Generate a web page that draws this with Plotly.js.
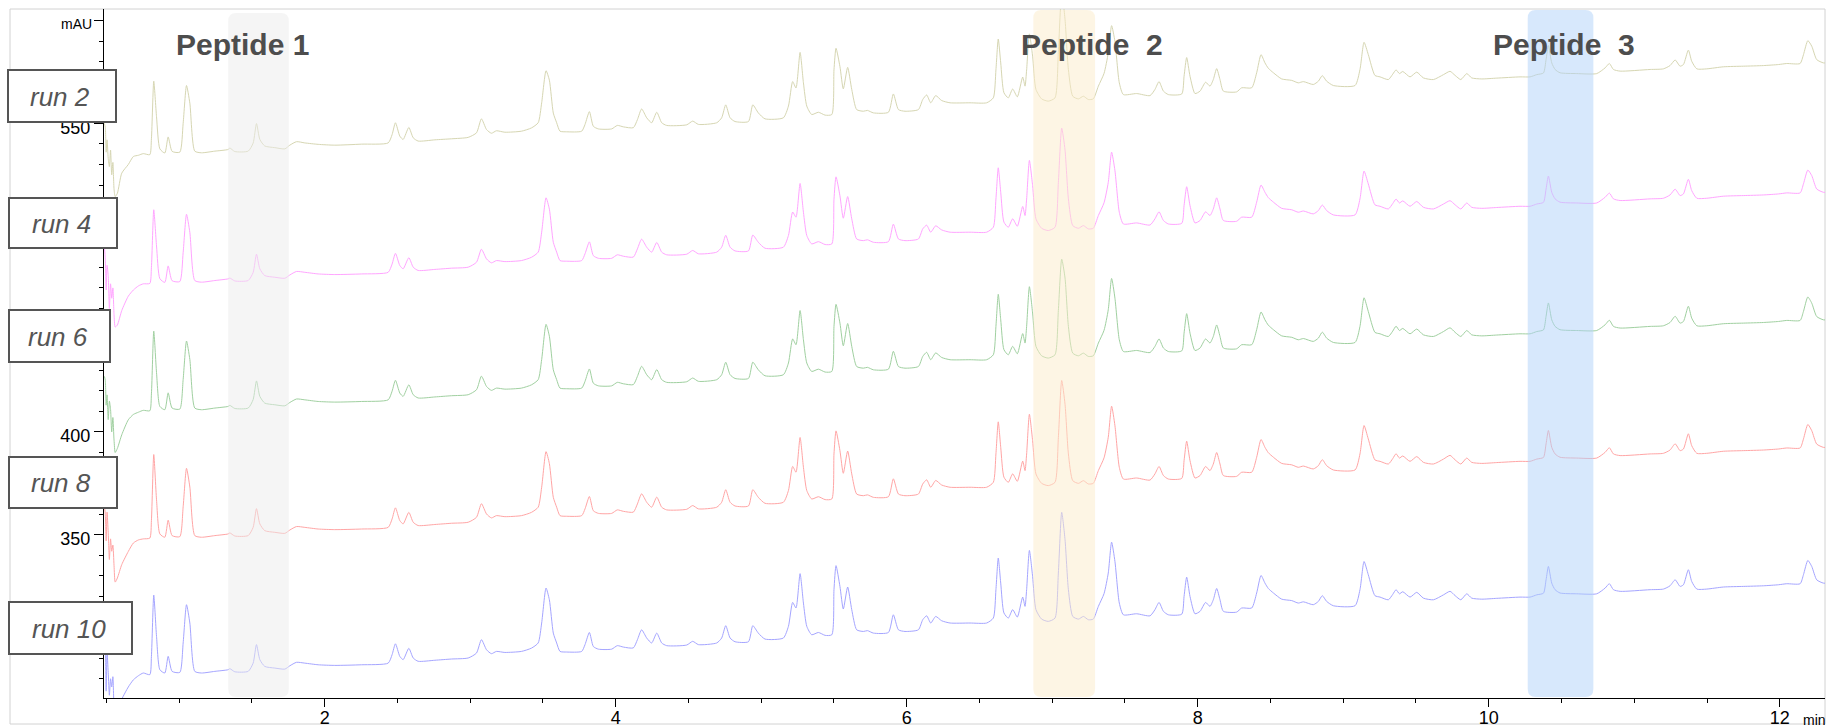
<!DOCTYPE html>
<html>
<head>
<meta charset="utf-8">
<script src="https://cdn.plot.ly/plotly-3.0.1.min.js"></script>
<style>
  html, body { margin: 0; padding: 0; background: #ffffff; }
  #chart { width: 1828px; height: 727px; }
</style>
</head>
<body>
<div id="chart"></div>
<script>
// Retention time (min), shared by every run
const retentionMin = [
  0.486, 0.492, 0.498, 0.504, 0.512, 0.520, 0.528, 0.536, 0.544, 0.552,
  0.560, 0.575, 0.605, 0.650, 0.685, 0.720, 0.753, 0.798, 0.809, 0.825,
  0.844, 0.867, 0.901, 0.924, 0.951, 1.004, 1.027, 1.050, 1.073, 1.107,
  1.153, 1.245, 1.336, 1.348, 1.382, 1.474, 1.508, 1.531, 1.554, 1.588,
  1.657, 1.726, 1.760, 1.806, 1.863, 1.955, 2.069, 2.253, 2.436, 2.463,
  2.486, 2.516, 2.539, 2.578, 2.608, 2.642, 2.757, 2.871, 2.986, 3.043,
  3.077, 3.112, 3.146, 3.180, 3.238, 3.352, 3.421, 3.467, 3.491, 3.521,
  3.544, 3.571, 3.594, 3.617, 3.663, 3.766, 3.789, 3.819, 3.846, 3.881,
  3.972, 4.011, 4.053, 4.121, 4.149, 4.178, 4.213, 4.247, 4.282, 4.316,
  4.350, 4.488, 4.529, 4.568, 4.694, 4.728, 4.756, 4.786, 4.820, 4.912,
  4.942, 4.980, 5.026, 5.152, 5.187, 5.216, 5.239, 5.267, 5.290, 5.313,
  5.347, 5.393, 5.439, 5.485, 5.500, 5.514, 5.541, 5.564, 5.594, 5.622,
  5.656, 5.702, 5.730, 5.771, 5.874, 5.908, 5.943, 5.988, 6.080, 6.110,
  6.137, 6.165, 6.199, 6.240, 6.298, 6.435, 6.549, 6.595, 6.613, 6.629,
  6.646, 6.668, 6.698, 6.728, 6.760, 6.797, 6.813, 6.824, 6.843, 6.865,
  6.888, 6.927, 6.973, 7.019, 7.042, 7.065, 7.088, 7.111, 7.141, 7.180,
  7.214, 7.248, 7.282, 7.317, 7.356, 7.385, 7.408, 7.431, 7.461, 7.489,
  7.580, 7.672, 7.706, 7.734, 7.764, 7.798, 7.890, 7.906, 7.924, 7.947,
  7.981, 8.016, 8.054, 8.084, 8.107, 8.130, 8.153, 8.176, 8.267, 8.302,
  8.371, 8.405, 8.435, 8.462, 8.485, 8.520, 8.577, 8.646, 8.691, 8.726,
  8.794, 8.829, 8.856, 8.886, 8.932, 9.081, 9.115, 9.143, 9.172, 9.218,
  9.253, 9.310, 9.340, 9.363, 9.386, 9.409, 9.459, 9.505, 9.551, 9.620,
  9.689, 9.734, 9.769, 9.808, 9.849, 9.883, 9.952, 10.055, 10.215, 10.284,
  10.330, 10.376, 10.394, 10.410, 10.433, 10.456, 10.490, 10.605, 10.742, 10.800,
  10.829, 10.857, 10.903, 11.109, 11.200, 11.246, 11.281, 11.315, 11.338, 11.372,
  11.395, 11.430, 11.498, 11.613, 11.750, 11.888, 11.991, 12.048, 12.140, 12.163,
  12.193, 12.220, 12.254, 12.300, 12.332
];

// Absorbance signal (mAU) of each run
const run2 = [
  297, 295, 283, 289, 280, 276, 284, 272, 278, 265,
  261.4, 263, 272.8, 277, 280.9, 281.5, 282.3, 281.8, 289.5, 317.5,
  300.2, 284.6, 282.6, 290.4, 283.4, 283.0, 297.0, 315.4, 306.8, 283.5,
  282.7, 283.5, 284.3, 285.0, 283.3, 283.5, 287.4, 296.9, 289.2, 286.0,
  285.2, 284.6, 286.4, 288.1, 287.5, 286.8, 286.4, 286.9, 287.5, 291.5,
  297.3, 290.8, 289.2, 295.0, 290.0, 288.4, 289.0, 289.5, 290.2, 292.4,
  299.2, 294.0, 292.2, 293.4, 292.7, 293.2, 294.8, 297.3, 307.0, 322.6,
  318.0, 302.0, 297.3, 293.2, 292.9, 293.2, 296.5, 302.7, 295.6, 294.3,
  294.3, 296.0, 295.3, 294.9, 298.8, 304.0, 299.7, 297.3, 302.4, 297.3,
  296.0, 296.3, 298.1, 296.5, 297.3, 299.7, 306.0, 299.7, 297.9, 297.9,
  306.0, 302.1, 299.2, 299.7, 305.4, 317.3, 314.2, 331.5, 316.7, 305.4,
  301.3, 302.4, 301.0, 301.3, 323.0, 333.5, 324.6, 313.8, 324.2, 313.5,
  303.7, 302.9, 303.3, 302.1, 302.4, 311.3, 303.7, 302.9, 303.7, 308.6,
  310.8, 307.0, 310.5, 308.1, 307.0, 307.0, 307.0, 309.4, 323.0, 338.0,
  326.4, 311.9, 309.4, 313.7, 309.9, 319.5, 315.1, 323.0, 340.5, 329.7,
  313.5, 308.9, 307.8, 309.4, 331.6, 361.0, 347.5, 323.2, 310.2, 308.9,
  310.2, 308.6, 308.9, 315.1, 321.3, 331.2, 344.5, 336.8, 316.7, 311.0,
  311.5, 310.5, 313.5, 317.3, 312.7, 311.0, 311.3, 319.9, 329.0, 319.9,
  311.5, 312.7, 317.0, 315.1, 318.3, 323.6, 318.3, 312.7, 312.3, 314.3,
  314.3, 321.6, 330.4, 326.4, 323.8, 321.6, 318.6, 317.9, 316.7, 317.3,
  315.9, 317.5, 320.2, 317.5, 315.4, 315.4, 323.2, 336.4, 330.5, 320.3,
  319.6, 318.3, 320.9, 323.0, 321.2, 322.2, 319.6, 321.9, 319.1, 318.3,
  320.7, 322.3, 320.3, 318.3, 321.2, 319.1, 318.6, 319.0, 319.6, 319.6,
  320.7, 321.5, 328.0, 334.8, 326.4, 323.2, 321.6, 321.2, 321.2, 324.0,
  326.1, 323.2, 322.4, 323.2, 323.5, 325.1, 327.8, 324.8, 325.6, 332.6,
  327.2, 323.5, 323.5, 324.5, 324.8, 325.1, 325.6, 326.1, 326.1, 330.4,
  337.2, 334.5, 328.0, 326.4, 326.4
];
const run4 = [
  300, 294, 279, 291, 286, 270, 282, 275, 280, 267,
  261, 262, 269, 276, 279, 281, 282, 282.2, 290, 318,
  300.4, 284.5, 282.7, 290.7, 283.5, 283.1, 297.2, 315.8, 307.0, 283.6,
  282.8, 283.6, 284.4, 284.8, 283.4, 283.6, 287.5, 296.4, 289.3, 286.0,
  285.2, 284.7, 286.3, 288.0, 287.6, 286.8, 286.5, 286.8, 287.6, 291.6,
  296.8, 290.9, 289.3, 294.7, 290.1, 288.5, 289.0, 289.6, 290.1, 292.5,
  298.8, 294.1, 292.2, 293.3, 292.8, 293.3, 294.9, 297.4, 307.1, 323.8,
  318.3, 302.2, 297.4, 293.3, 293.0, 293.3, 296.6, 302.4, 295.7, 294.4,
  294.4, 296.1, 295.4, 295.0, 299.0, 303.7, 299.8, 297.4, 302.1, 297.4,
  296.1, 296.4, 298.2, 296.6, 297.4, 299.8, 305.6, 299.8, 298.0, 298.0,
  305.7, 302.2, 299.3, 299.8, 305.5, 316.9, 314.4, 330.8, 316.8, 305.5,
  301.4, 302.5, 301.1, 301.4, 323.1, 334.0, 324.8, 313.9, 324.4, 313.6,
  303.8, 303.0, 303.4, 302.2, 302.5, 311.0, 303.8, 303.0, 303.8, 308.7,
  310.5, 307.1, 310.2, 308.2, 307.1, 307.1, 307.1, 309.5, 323.2, 338.4,
  326.5, 312.0, 309.5, 313.6, 310.0, 319.6, 315.2, 323.2, 342.0, 329.8,
  313.6, 309.0, 307.9, 309.5, 331.2, 357.7, 347.0, 323.3, 310.3, 309.0,
  310.3, 308.7, 309.0, 315.2, 321.4, 331.3, 346.0, 337.0, 316.8, 311.1,
  311.6, 310.6, 313.6, 317.0, 312.8, 311.1, 311.4, 320.0, 329.2, 320.0,
  311.6, 312.8, 317.0, 315.2, 318.4, 323.8, 318.4, 312.8, 312.4, 314.4,
  314.4, 321.7, 330.0, 326.5, 323.9, 321.7, 318.7, 318.0, 316.8, 317.4,
  316.0, 317.6, 320.3, 317.6, 315.5, 315.5, 323.3, 336.8, 330.6, 320.4,
  319.7, 318.4, 321.0, 323.2, 321.3, 322.3, 319.7, 322.0, 319.2, 318.4,
  320.8, 322.4, 320.4, 318.4, 321.3, 319.2, 318.7, 319.1, 319.7, 319.7,
  320.8, 321.6, 328.1, 334.4, 326.5, 323.3, 321.7, 321.3, 321.3, 324.1,
  326.1, 323.3, 322.5, 323.3, 323.6, 325.2, 328.0, 324.9, 325.7, 332.8,
  327.3, 323.6, 323.6, 324.6, 324.9, 325.2, 325.7, 326.2, 326.2, 330.6,
  337.3, 334.6, 328.1, 326.5, 326.5
];
const run6 = [
  299, 297, 285, 290, 278, 287, 283, 272, 279, 268,
  262, 264, 270.6, 277.9, 280.5, 281.6, 282.5, 282.3, 290.5, 321,
  300.8, 284.4, 282.8, 291.0, 283.6, 283.1, 297.5, 316.2, 307.2, 283.6,
  282.8, 283.6, 284.4, 284.9, 283.4, 283.6, 287.7, 296.8, 289.3, 286.0,
  285.2, 284.7, 286.3, 288.0, 287.6, 286.8, 286.5, 286.8, 287.6, 291.8,
  297.1, 290.9, 289.3, 294.9, 290.1, 288.5, 289.0, 289.6, 290.1, 292.5,
  299.1, 294.1, 292.2, 293.3, 292.8, 293.3, 294.9, 297.4, 307.2, 324.3,
  318.5, 302.2, 297.4, 293.3, 293.0, 293.3, 296.6, 302.6, 295.7, 294.4,
  294.4, 296.1, 295.4, 295.0, 299.0, 303.9, 299.8, 297.4, 302.3, 297.4,
  296.1, 296.4, 298.2, 296.6, 297.4, 299.8, 305.9, 299.8, 298.0, 298.0,
  305.9, 302.2, 299.3, 299.8, 305.5, 317.2, 314.4, 331.0, 316.8, 305.5,
  301.4, 302.5, 301.1, 301.4, 323.2, 334.0, 324.9, 313.9, 324.7, 313.6,
  303.8, 303.0, 303.4, 302.2, 302.5, 311.2, 303.8, 303.0, 303.8, 308.7,
  310.7, 307.1, 310.4, 308.2, 307.1, 307.1, 307.1, 309.5, 323.3, 338.9,
  326.5, 312.0, 309.5, 313.6, 310.0, 319.8, 315.2, 323.3, 342.6, 329.8,
  313.6, 309.0, 307.9, 309.5, 331.0, 356.0, 346.8, 323.3, 310.3, 309.0,
  310.3, 308.7, 309.0, 315.2, 321.4, 331.4, 346.6, 337.0, 316.8, 311.1,
  311.6, 310.6, 313.6, 317.2, 312.8, 311.1, 311.4, 320.0, 329.5, 320.0,
  311.6, 312.8, 317.2, 315.2, 318.4, 324.0, 318.4, 312.8, 312.4, 314.4,
  314.4, 321.7, 330.3, 326.5, 323.9, 321.7, 318.7, 318.0, 316.8, 317.4,
  316.0, 317.6, 320.5, 317.6, 315.5, 315.5, 323.3, 337.2, 330.6, 320.4,
  319.7, 318.4, 321.0, 323.4, 321.3, 322.3, 319.7, 322.0, 319.2, 318.4,
  320.8, 322.6, 320.4, 318.4, 321.3, 319.2, 318.7, 319.1, 319.7, 319.7,
  320.8, 321.6, 328.2, 334.7, 326.5, 323.3, 321.7, 321.3, 321.3, 324.1,
  326.3, 323.3, 322.5, 323.3, 323.6, 325.2, 328.2, 324.9, 325.7, 333.1,
  327.3, 323.6, 323.6, 324.6, 324.9, 325.2, 325.7, 326.2, 326.2, 330.6,
  337.6, 334.6, 328.1, 326.5, 326.5
];
const run8 = [
  298, 294, 281, 295, 285, 272, 282, 276, 279, 269,
  261, 263, 269.5, 275.9, 280, 281.5, 282, 282.4, 291, 323,
  301.0, 284.4, 282.8, 291.1, 283.6, 283.1, 297.6, 316.3, 307.2, 283.6,
  282.8, 283.6, 284.4, 284.9, 283.4, 283.6, 287.6, 296.7, 289.3, 286.0,
  285.2, 284.7, 286.3, 288.0, 287.6, 286.8, 286.5, 286.8, 287.6, 291.7,
  297.1, 290.9, 289.3, 294.9, 290.1, 288.5, 289.0, 289.6, 290.1, 292.5,
  299.1, 294.1, 292.2, 293.3, 292.8, 293.3, 294.9, 297.4, 307.1, 324.4,
  318.6, 302.2, 297.4, 293.3, 293.0, 293.3, 296.6, 302.6, 295.7, 294.4,
  294.4, 296.1, 295.4, 295.0, 299.0, 303.9, 299.8, 297.4, 302.3, 297.4,
  296.1, 296.4, 298.2, 296.6, 297.4, 299.8, 305.9, 299.8, 298.0, 298.0,
  305.9, 302.2, 299.3, 299.8, 305.5, 317.2, 314.4, 331.3, 316.8, 305.5,
  301.4, 302.5, 301.1, 301.4, 323.3, 334.5, 324.9, 313.9, 324.7, 313.6,
  303.8, 303.0, 303.4, 302.2, 302.5, 311.2, 303.8, 303.0, 303.8, 308.7,
  310.7, 307.1, 310.4, 308.2, 307.1, 307.1, 307.1, 309.5, 323.3, 338.9,
  326.5, 312.0, 309.5, 313.6, 310.0, 319.8, 315.2, 323.3, 342.6, 329.8,
  313.6, 309.0, 307.9, 309.5, 331.2, 359.0, 347.4, 323.3, 310.3, 309.0,
  310.3, 308.7, 309.0, 315.2, 321.4, 331.4, 346.5, 337.0, 316.8, 311.1,
  311.6, 310.6, 313.6, 317.2, 312.8, 311.1, 311.4, 320.0, 329.5, 320.0,
  311.6, 312.8, 317.2, 315.2, 318.4, 324.0, 318.4, 312.8, 312.4, 314.4,
  314.4, 321.7, 330.3, 326.5, 323.9, 321.7, 318.7, 318.0, 316.8, 317.4,
  316.0, 317.6, 320.5, 317.6, 315.5, 315.5, 323.3, 337.1, 330.6, 320.4,
  319.7, 318.4, 321.0, 323.4, 321.3, 322.3, 319.7, 322.0, 319.2, 318.4,
  320.8, 322.6, 320.4, 318.4, 321.3, 319.2, 318.7, 319.1, 319.7, 319.7,
  320.8, 321.6, 328.2, 334.7, 326.5, 323.3, 321.7, 321.3, 321.3, 324.1,
  326.3, 323.3, 322.5, 323.3, 323.6, 325.2, 328.2, 324.9, 325.7, 333.1,
  327.3, 323.6, 323.6, 324.6, 324.9, 325.2, 325.7, 326.2, 326.2, 330.6,
  337.6, 334.6, 328.1, 326.5, 326.5
];
const run10 = [
  300, 296, 274, 293, 283, 272, 280, 276, 281, 266,
  262, 263, 270, 276, 279.5, 281.5, 282.8, 282.0, 290.9, 320.7,
  300.6, 284.4, 282.8, 290.9, 283.6, 283.1, 297.4, 316.0, 307.1, 283.6,
  282.8, 283.6, 284.4, 284.9, 283.4, 283.6, 287.6, 296.6, 289.3, 286.0,
  285.2, 284.7, 286.3, 288.0, 287.6, 286.8, 286.5, 286.8, 287.6, 291.7,
  297.0, 290.9, 289.3, 294.8, 290.1, 288.5, 289.0, 289.6, 290.1, 292.5,
  299.0, 294.1, 292.2, 293.3, 292.8, 293.3, 294.9, 297.4, 307.1, 324.1,
  318.4, 302.2, 297.4, 293.3, 293.0, 293.3, 296.6, 302.5, 295.7, 294.4,
  294.4, 296.1, 295.4, 295.0, 299.0, 303.8, 299.8, 297.4, 302.2, 297.4,
  296.1, 296.4, 298.2, 296.6, 297.4, 299.8, 305.8, 299.8, 298.0, 298.0,
  305.8, 302.2, 299.3, 299.8, 305.5, 317.1, 314.4, 331.1, 316.8, 305.5,
  301.4, 302.5, 301.1, 301.4, 323.3, 335.0, 324.9, 313.9, 324.6, 313.6,
  303.8, 303.0, 303.4, 302.2, 302.5, 311.1, 303.8, 303.0, 303.8, 308.7,
  310.6, 307.1, 310.3, 308.2, 307.1, 307.1, 307.1, 309.5, 323.3, 338.7,
  326.5, 312.0, 309.5, 313.6, 310.0, 319.7, 315.2, 323.3, 342.4, 329.8,
  313.6, 309.0, 307.9, 309.5, 331.4, 360.9, 347.6, 323.3, 310.3, 309.0,
  310.3, 308.7, 309.0, 315.2, 321.4, 331.4, 346.4, 337.0, 316.8, 311.1,
  311.6, 310.6, 313.6, 317.1, 312.8, 311.1, 311.4, 320.0, 329.4, 320.0,
  311.6, 312.8, 317.1, 315.2, 318.4, 323.9, 318.4, 312.8, 312.4, 314.4,
  314.4, 321.7, 330.2, 326.5, 323.9, 321.7, 318.7, 318.0, 316.8, 317.4,
  316.0, 317.6, 320.4, 317.6, 315.5, 315.5, 323.3, 337.0, 330.6, 320.4,
  319.7, 318.4, 321.0, 323.3, 321.3, 322.3, 319.7, 322.0, 319.2, 318.4,
  320.8, 322.5, 320.4, 318.4, 321.3, 319.2, 318.7, 319.1, 319.7, 319.7,
  320.8, 321.6, 328.1, 334.6, 326.5, 323.3, 321.7, 321.3, 321.3, 324.1,
  326.2, 323.3, 322.5, 323.3, 323.6, 325.2, 328.1, 324.9, 325.7, 333.0,
  327.3, 323.6, 323.6, 324.6, 324.9, 325.2, 325.7, 326.2, 326.2, 330.6,
  337.5, 334.6, 328.1, 326.5, 326.5
];

const runNames = ['run 2', 'run 4', 'run 6', 'run 8', 'run 10'];
const runSignals = [run2, run4, run6, run8, run10];

// Peptide names and their retention windows (min)
const peptideNames = ['Peptide 1', 'Peptide\u00a0 2', 'Peptide\u00a0 3'];
const peptideWindows = [[1.337, 1.753], [6.870, 7.294], [10.268, 10.719]];

// Y tick values; the labels sitting behind a run box are left blank
const yTickVals = [300, 350, 400, 450, 500, 550, 600];
const yTickText = ['', '350', '400', '', '', '550', ''];

// ---- presentation ----
const FONT = 'Liberation Sans, Arial, Helvetica, sans-serif';
const runColors = ['rgb(214,214,178)', 'rgb(255,165,255)', 'rgb(160,208,160)', 'rgb(255,165,165)', 'rgb(165,165,255)'];
const stackOffset = [253, 190, 128, 66, 0];     // vertical stacking of the traces (mAU)
const bandColors = ['rgb(236,236,236)', 'rgb(251,236,202)', 'rgb(175,210,249)'];
const bandTopPx = [13, 10, 10];
const peptideLabelX = [1.438, 7.276, 10.514];

const W = 1828, H = 727;
const M = { l: 104, r: 3, t: 9, b: 29 };
const PW = W - M.l - M.r, PH = H - M.t - M.b;
const px2x = px => (px - M.l) / PW;          // page pixel -> paper x
const px2y = py => (H - M.b - py) / PH;      // page pixel -> paper y

const traces = runSignals.map((sig, i) => ({
  type: 'scatter',
  mode: 'lines',
  name: runNames[i],
  x: retentionMin,
  y: sig.map(v => v + stackOffset[i]),
  line: { color: runColors[i], width: 1, shape: 'spline', smoothing: 0.6 },
  hoverinfo: 'skip'
}));

// rounded vertical band spanning a retention window
function bandPath(t0, t1, yTop, yBot) {
  const rx = 8 / (PW / (12.311 - 0.483));
  const ry = 8 / PH;
  return `M ${t0 + rx},${yTop} L ${t1 - rx},${yTop} Q ${t1},${yTop} ${t1},${yTop - ry} ` +
         `L ${t1},${yBot + ry} Q ${t1},${yBot} ${t1 - rx},${yBot} L ${t0 + rx},${yBot} ` +
         `Q ${t0},${yBot} ${t0},${yBot + ry} L ${t0},${yTop - ry} Q ${t0},${yTop} ${t0 + rx},${yTop} Z`;
}

const shapes = [];
// outer frame
shapes.push({ type: 'rect', xref: 'paper', yref: 'paper', layer: 'below',
  x0: px2x(10), x1: px2x(1825), y0: px2y(724), y1: px2y(9),
  line: { color: 'rgb(210,210,210)', width: 1 }, fillcolor: 'rgba(0,0,0,0)' });

peptideWindows.forEach((w, i) => {
  shapes.push({ type: 'path', xref: 'x', yref: 'paper', layer: 'above',
    path: bandPath(w[0], w[1], px2y(bandTopPx[i]), px2y(697)),
    fillcolor: bandColors[i], opacity: 0.5, line: { width: 0 } });
});

// run label boxes (page pixels: left, top, right, bottom)
const boxPx = [[8, 70, 116, 122], [9, 198, 117, 248], [9, 310, 110, 362], [9, 457, 117, 508], [9, 602, 132, 654]];
boxPx.forEach(b => {
  shapes.push({ type: 'rect', xref: 'paper', yref: 'paper', layer: 'above',
    x0: px2x(b[0]), x1: px2x(b[2]), y0: px2y(b[3]), y1: px2y(b[1]),
    fillcolor: '#ffffff', line: { color: 'rgb(85,85,85)', width: 2 } });
});

const annotations = [];
runNames.forEach((name, i) => {
  const b = boxPx[i];
  annotations.push({ text: name, xref: 'paper', yref: 'paper', showarrow: false,
    x: px2x((b[0] + b[2]) / 2 - 2), y: px2y((b[1] + b[3]) / 2 + 1),
    xanchor: 'center', yanchor: 'middle',
    font: { family: FONT, size: 26, color: 'rgb(85,85,85)', style: 'italic' } });
});
peptideNames.forEach((name, i) => {
  annotations.push({ text: '<b>' + name + '</b>', xref: 'x', yref: 'paper', showarrow: false,
    x: peptideLabelX[i], y: px2y(44), xanchor: 'center', yanchor: 'middle',
    font: { family: FONT, size: 30, color: 'rgb(77,77,77)' } });
});
annotations.push({ text: 'mAU', xref: 'paper', yref: 'y', x: px2x(94), y: 600, yshift: -3,
  xanchor: 'right', yanchor: 'middle', showarrow: false,
  font: { family: FONT, size: 14, color: '#000' } });
annotations.push({ text: 'min', xref: 'paper', yref: 'paper', x: px2x(1801), y: px2y(720),
  xanchor: 'left', yanchor: 'middle', showarrow: false,
  font: { family: FONT, size: 14, color: '#000' } });

const layout = {
  width: W, height: H,
  margin: { l: M.l, r: M.r, t: M.t, b: M.b, pad: 0 },
  paper_bgcolor: '#ffffff', plot_bgcolor: '#ffffff',
  showlegend: false,
  font: { family: FONT, size: 18, color: '#000' },
  xaxis: {
    range: [0.483, 12.311], showgrid: false, zeroline: false,
    showline: true, linecolor: '#000', linewidth: 1,
    ticks: 'outside', ticklen: 8, tickwidth: 1, tickcolor: '#000',
    tickmode: 'linear', tick0: 0, dtick: 2, ticklabelstandoff: -5,
    tickfont: { family: FONT, size: 18, color: '#000' },
    minor: { ticks: 'outside', dtick: 0.5, tick0: 0, ticklen: 4, tickcolor: '#000', tickwidth: 1, showgrid: false }
  },
  yaxis: {
    range: [270.65, 605.6], showgrid: false, zeroline: false,
    showline: true, linecolor: '#000', linewidth: 1,
    ticks: 'outside', ticklen: 9, tickwidth: 1, tickcolor: '#000',
    tickvals: yTickVals,
    ticktext: yTickText,
    ticklabelshift: 4,
    tickfont: { family: FONT, size: 18, color: '#000' },
    minor: { ticks: 'outside', dtick: 10, tick0: 0, ticklen: 4, tickcolor: '#000', tickwidth: 1, showgrid: false }
  },
  shapes: shapes,
  annotations: annotations
};

Plotly.newPlot('chart', traces, layout, { staticPlot: true, displayModeBar: false });
</script>
</body>
</html>
